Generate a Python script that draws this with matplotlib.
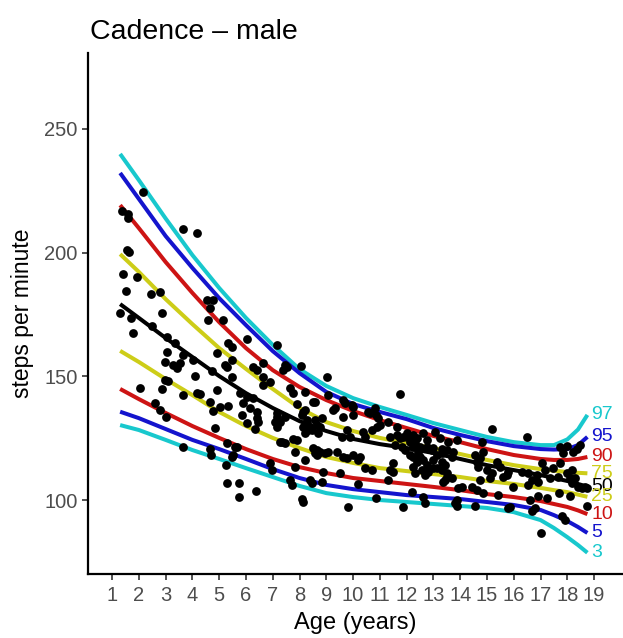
import matplotlib
matplotlib.use("Agg")
import matplotlib.pyplot as plt

plt.rcParams['font.family'] = ['Liberation Sans', 'DejaVu Sans']

# ---- centile curves ----
curve_age = [1.3, 2, 3, 4, 5, 6, 7, 8, 9, 10, 11, 12, 13, 14, 15, 16, 17, 17.5, 18, 18.4, 18.75]
c97 = [239.9, 229.3, 213.8, 199.0, 185.7, 173.6, 162.7, 152.9, 146.1, 141.2, 137.6, 134.4, 131.1, 128.3, 125.5, 123.4, 122.2, 122.2, 124.5, 128.5, 134.4]
c95 = [232.2, 221.7, 206.7, 193.8, 181.6, 170.7, 160.2, 151.3, 143.7, 138.8, 135.6, 132.7, 129.1, 126.3, 123.8, 121.8, 120.6, 120.4, 120.6, 122.2, 125.5]
c90 = [219.2, 209.9, 196.2, 183.7, 171.9, 161.4, 152.5, 145.7, 140.4, 136.0, 132.3, 129.1, 125.9, 123.4, 120.6, 118.2, 116.6, 116.2, 116.2, 116.6, 117.4]
c75 = [199.4, 192.2, 181.2, 171.1, 161.4, 153.0, 144.9, 137.2, 131.5, 127.9, 125.1, 123.0, 121.0, 118.6, 116.2, 114.1, 112.5, 111.9, 111.3, 111.0, 110.8]
c50 = [179.2, 173.6, 165.5, 157.8, 150.1, 143.2, 137.2, 131.9, 127.9, 124.7, 122.6, 121.0, 119.0, 116.6, 114.1, 112.1, 110.1, 108.9, 107.7, 106.5, 105.4]
c25 = [160.3, 155.8, 148.9, 142.4, 135.6, 129.9, 125.1, 121.0, 117.4, 115.0, 112.9, 111.7, 110.5, 109.3, 107.7, 106.5, 104.9, 104.0, 103.2, 102.2, 101.3]
c10 = [144.9, 140.8, 135.2, 129.9, 125.1, 120.6, 116.6, 113.3, 110.9, 108.9, 107.7, 106.5, 105.3, 104.0, 102.4, 101.2, 99.6, 98.4, 97.2, 95.8, 94.3]
c5 = [135.7, 133.1, 128.7, 124.3, 120.6, 116.6, 112.5, 108.9, 106.1, 104.4, 103.2, 102.0, 101.2, 100.4, 99.2, 98.0, 96.0, 93.9, 91.5, 89.1, 86.7]
c3 = [130.3, 128.3, 124.3, 120.2, 116.6, 112.9, 109.3, 105.7, 102.8, 101.2, 100.0, 99.2, 98.4, 97.6, 96.8, 95.1, 91.9, 88.7, 85.0, 81.8, 78.7]

centile_labels = ["97", "95", "90", "75", "50", "25", "10", "5", "3"]
centile_colors = ["#18C8CD", "#1414CD", "#CD1414", "#CDCD18", "#000000",
                  "#CDCD18", "#CD1414", "#1414CD", "#18C8CD"]

# ---- observations ----
obs_age = [2.16, 1.37, 1.60, 1.60, 3.65, 4.17, 1.56, 1.63, 1.41, 1.93, 1.52, 2.46, 2.79, 4.55, 4.77, 4.66,
           2.87, 1.30, 1.71, 4.58, 5.14, 1.78, 2.49, 3.05, 3.35, 3.05, 3.65, 2.98, 3.28, 3.54, 3.43, 4.02,
           4.10, 4.73, 2.98, 3.09, 2.05, 2.87, 3.65, 4.17, 4.92, 2.61, 2.79, 3.02, 4.66, 4.77, 5.03, 5.33,
           4.85, 3.65, 4.66, 4.70, 5.29, 5.59, 5.52, 5.48, 5.26, 5.29, 5.74, 5.74, 6.38, 5.33, 5.48, 4.92,
           5.48, 5.22, 5.29, 5.48, 6.04, 6.27, 6.41, 6.64, 6.64, 6.64, 6.90, 5.78, 6.04, 6.27, 5.89, 6.15,
           6.41, 6.04, 5.85, 6.41, 7.16, 7.16, 7.09, 7.16, 6.90, 6.97, 7.27, 4.29, 7.46, 7.53, 7.39, 8.06,
           7.65, 7.76, 7.91, 8.51, 6.45, 6.34, 7.16, 7.46, 7.27, 8.09, 8.21, 8.28, 8.13, 8.32, 8.21, 8.58,
           8.66, 7.35, 7.46, 7.76, 7.91, 8.51, 8.66, 8.58, 7.83, 8.21, 5.67, 7.83, 7.65, 7.72, 8.39, 8.47,
           8.09, 9.03, 11.75, 8.21, 8.58, 9.07, 9.63, 9.70, 9.96, 10.00, 9.25, 9.33, 10.56, 10.82, 10.86,
           10.93, 11.31, 11.64, 9.63, 10.00, 8.13, 8.28, 8.47, 8.84, 8.77, 8.69, 9.78, 9.89, 9.59, 10.37,
           10.45, 10.71, 10.90, 11.01, 11.38, 11.64, 11.75, 12.02, 12.20, 12.31, 11.57, 11.83, 8.66, 8.77,
           8.95, 9.07, 9.40, 9.63, 9.78, 10.00, 10.26, 10.19, 10.45, 10.71, 8.88, 9.51, 11.38, 11.49, 12.24,
           12.31, 8.84, 10.19, 11.31, 10.86, 12.20, 8.13, 9.81, 11.87, 10.63, 12.02, 12.24, 12.39, 12.61,
           12.76, 13.06, 13.25, 13.55, 13.88, 12.50, 12.76, 12.99, 13.32, 13.51, 13.73, 13.70, 12.24, 12.39,
           12.61, 12.76, 12.99, 13.14, 13.32, 13.51, 13.70, 13.43, 13.36, 11.49, 12.61, 12.69, 13.88, 13.92,
           15.19, 14.82, 14.85, 11.87, 12.13, 11.94, 12.24, 12.13, 12.43, 12.50, 12.95, 13.14, 13.32, 13.32,
           13.43, 12.58, 12.69, 12.80, 12.99, 13.51, 14.55, 14.74, 14.63, 14.67, 15.38, 15.49, 15.00, 15.19,
           15.12, 14.74, 15.60, 15.75, 15.97, 14.07, 14.44, 14.63, 14.85, 15.41, 13.81, 13.88, 14.55, 15.79,
           16.50, 17.73, 17.99, 17.84, 18.36, 18.48, 18.21, 15.79, 16.31, 16.53, 16.68, 16.53, 16.91, 16.87,
           17.06, 17.17, 17.47, 17.36, 17.65, 17.73, 17.99, 18.10, 18.18, 18.29, 18.41, 18.55, 18.66, 18.74,
           18.18, 16.91, 17.24, 17.69, 18.10, 16.61, 16.80, 16.68, 15.86, 17.80, 17.92, 18.74, 17.02]
obs_cadence = [224.5, 216.8, 215.6, 214.0, 209.5, 207.9, 201.0, 200.2, 191.3, 190.1, 184.5, 183.3, 184.1, 180.8,
               180.8, 177.6, 175.6, 175.6, 173.6, 172.8, 172.8, 167.5, 170.3, 165.9, 163.5, 159.8, 158.6,
               155.8, 154.6, 155.4, 153.4, 156.6, 150.1, 152.1, 148.5, 148.1, 145.3, 144.9, 142.4, 143.2,
               144.5, 139.2, 136.4, 133.5, 139.6, 136.0, 137.6, 138.0, 129.1, 121.4, 120.6, 118.2, 123.0,
               121.4, 118.2, 117.4, 114.1, 106.9, 106.9, 101.2, 103.6, 163.5, 161.8, 159.4, 156.6, 154.6,
               153.8, 149.7, 165.1, 153.8, 152.5, 155.4, 149.7, 146.5, 147.7, 143.2, 141.6, 141.2, 139.2,
               137.2, 133.1, 131.1, 134.4, 135.6, 162.7, 133.5, 131.5, 129.5, 115.0, 112.1, 123.4, 142.8,
               154.6, 153.8, 152.5, 154.2, 145.3, 143.2, 138.8, 139.6, 131.5, 128.7, 135.2, 133.5, 131.5,
               134.4, 136.4, 132.3, 129.5, 128.3, 127.1, 132.3, 130.3, 123.4, 123.0, 124.7, 124.3, 121.0,
               120.2, 119.0, 119.4, 116.2, 121.4, 113.3, 108.1, 106.1, 108.1, 106.9, 100.4, 149.7, 142.8,
               143.7, 139.6, 142.4, 140.4, 139.2, 138.4, 137.6, 136.4, 137.2, 135.6, 137.2, 134.4, 133.1,
               131.5, 129.5, 133.5, 134.4, 135.6, 131.1, 128.3, 133.1, 129.5, 127.1, 128.3, 125.5, 125.5,
               127.5, 125.5, 128.3, 129.5, 130.3, 125.5, 126.3, 125.1, 125.5, 124.3, 123.0, 122.2, 121.4,
               118.2, 119.4, 119.0, 119.4, 119.4, 117.4, 117.0, 118.2, 117.4, 116.2, 112.9, 112.1, 111.3,
               110.9, 112.1, 111.3, 113.3, 110.9, 107.3, 106.5, 108.1, 100.8, 103.2, 99.2, 97.2, 97.2,
               135.2, 127.1, 126.3, 125.1, 127.1, 124.3, 127.5, 125.1, 123.4, 124.3, 121.4, 121.4, 121.0,
               120.6, 120.2, 119.4, 117.4, 117.4, 115.4, 116.2, 114.1, 116.2, 112.9, 112.1, 110.9, 108.9,
               108.1, 107.3, 115.0, 101.2, 98.8, 100.0, 104.9, 128.7, 123.4, 119.4, 125.5, 123.4, 120.2,
               121.4, 118.2, 119.4, 117.4, 120.2, 118.2, 119.0, 115.4, 114.1, 112.1, 110.1, 111.3, 112.9,
               109.3, 118.2, 117.0, 115.4, 113.3, 115.4, 113.3, 112.1, 110.9, 108.9, 108.1, 109.3, 110.1,
               105.3, 105.3, 105.3, 104.0, 102.8, 102.0, 98.8, 97.6, 97.6, 96.8, 125.5, 121.4, 121.8, 119.0,
               120.6, 122.2, 119.4, 111.3, 111.3, 110.9, 108.1, 106.1, 107.3, 110.1, 115.0, 112.1, 112.9,
               108.9, 109.3, 115.0, 110.9, 108.9, 112.1, 108.9, 105.3, 104.9, 105.3, 104.9, 106.9, 101.6,
               100.8, 102.8, 101.6, 100.0, 96.8, 95.6, 97.2, 93.5, 91.9, 97.6, 86.7]

x_ticks = list(range(1, 20))
y_ticks = [100, 150, 200, 250]

fig = plt.figure(figsize=(6.23, 6.38), dpi=100)
ax = fig.add_axes([88 / 623, 64 / 638, 535 / 623, 521 / 638])

curves = [c97, c95, c90, c75, c50, c25, c10, c5, c3]
for vals, col in zip(curves, centile_colors):
    ax.plot(curve_age, vals, color=col, lw=2.9, solid_capstyle='butt', zorder=2)

ax.scatter(obs_age, obs_cadence, s=40, color='black', linewidths=0, zorder=3)

for vals, col, lab in zip(curves, centile_colors, centile_labels):
    ax.text(curve_age[-1] + 0.15, vals[-1], lab, color=col, fontsize=14,
            ha='left', va='center', zorder=4)

ax.set_xlim(0.1, 20.08)
ax.set_ylim(70.1, 280.7)
ax.set_xticks(x_ticks)
ax.set_yticks(y_ticks)
for s in ['top', 'right']:
    ax.spines[s].set_visible(False)
for s in ['left', 'bottom']:
    ax.spines[s].set_linewidth(1.6)
    ax.spines[s].set_color('black')
ax.tick_params(axis='both', length=4.5, width=1.2, color='#333333',
               labelcolor='#4D4D4D', labelsize=14.5, pad=3)
ax.tick_params(axis='x', pad=4)
ax.set_xlabel('Age (years)', fontsize=17, labelpad=5)
ax.set_ylabel('steps per minute', fontsize=16.5, labelpad=7)
ax.set_title('Cadence – male', fontsize=20.5, loc='left', x=0.004, pad=10)

fig.savefig('out.png', dpi=100)
